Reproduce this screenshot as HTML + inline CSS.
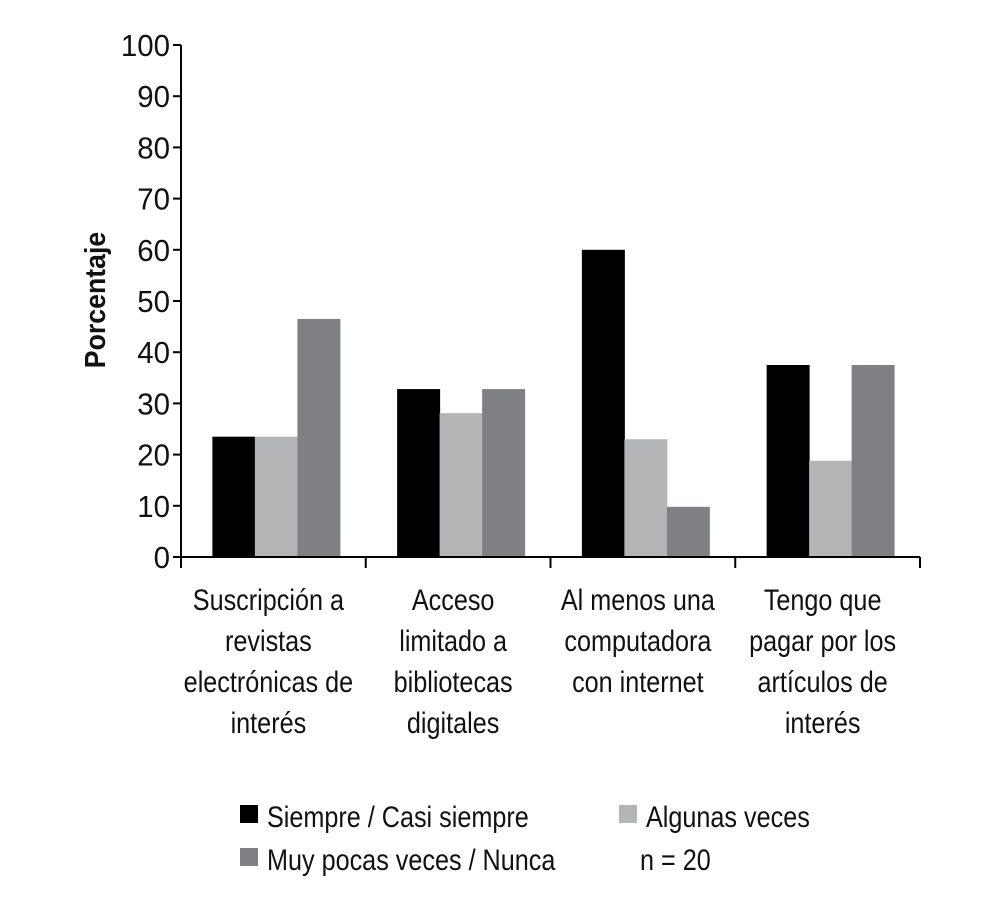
<!DOCTYPE html>
<html><head><meta charset="utf-8"><style>
html,body{margin:0;padding:0;background:#fff;}
svg text{font-family:"Liberation Sans Narrow","Liberation Sans",sans-serif;fill:#111;}
</style></head><body>
<svg id="chart" width="987" height="904" xmlns="http://www.w3.org/2000/svg"></svg>
<script>
const categories=[["Suscripción a","revistas","electrónicas de","interés"],["Acceso","limitado a","bibliotecas","digitales"],["Al menos una","computadora","con internet"],["Tengo que","pagar por los","artículos de","interés"]];
const seriesNames=["Siempre / Casi siempre","Algunas veces","Muy pocas veces / Nunca"];
const siempre=[23.5,32.8,60,37.5];
const algunas=[23.5,28.1,23,18.8];
const nunca=[46.5,32.8,9.8,37.5];
const yTicks=[0,10,20,30,40,50,60,70,80,90,100];
const colors=["#000000","#b4b5b7","#7f8084"];
const series=[siempre,algunas,nunca];
const NS="http://www.w3.org/2000/svg";
const svg=document.getElementById('chart');
const x0=181,x1=920,y0=557,y100=45;
const yS=v=>y0-(y0-y100)*v/100;
const bw=(x1-x0)/categories.length;
function mk(t,a,p){const e=document.createElementNS(NS,t);for(const k in a)e.setAttribute(k,a[k]);(p||svg).appendChild(e);return e;}
function txt(s,x,y,anchor,size,sx,p,bold){
  const g=mk('g',{transform:`translate(${x},${y}) scale(${sx},1)`},p);
  const t=mk('text',{x:0,y:0,'text-anchor':anchor,'font-size':size},g);
  if(bold)t.setAttribute('font-weight','bold');
  t.textContent=s;return t;}
categories.forEach((c,i)=>{
  const start=x0+i*bw+bw/2-61;
  series.forEach((s,j)=>{
    const r=mk('rect',{x:start+j*42.5,y:yS(s[i]),width:43,height:y0-yS(s[i]),fill:colors[j]});
    
    
  });
  c.forEach((line,k)=>{const t=txt(line,x0+i*bw+bw/2-5,610+k*41,'middle',30,0.84);
    });
  const tk=mk('line',{x1:x0+(i+1)*bw,x2:x0+(i+1)*bw,y1:y0,y2:568,stroke:'#000','stroke-width':2});
  
});
const ya=mk('line',{x1:x0,x2:x0,y1:y100,y2:568,stroke:'#000','stroke-width':2});

const xa=mk('line',{x1:x0,x2:x1,y1:y0,y2:y0,stroke:'#000','stroke-width':2});

yTicks.forEach(v=>{
  const l=mk('line',{x1:173,x2:x0,y1:yS(v),y2:yS(v),stroke:'#000','stroke-width':2});
  
  const t=txt(String(v),170,yS(v)+11,'end',31,0.95);
  
});
const yt=mk('g',{transform:'translate(105,300) rotate(-90) scale(0.92,1)'});

const ytt=mk('text',{x:0,y:0,'text-anchor':'middle','font-size':29,'font-weight':'bold'},yt);ytt.textContent='Porcentaje';
const lpos=[[240,805],[619,805],[240,848]];
seriesNames.forEach((n,j)=>{
  const r=mk('rect',{x:lpos[j][0],y:lpos[j][1],width:18,height:18,fill:colors[j]});
  
  const t=txt(n,lpos[j][0]+27,lpos[j][1]+22,'start',30,0.84);
  
});
const nt=txt('n = 20',640,870,'start',30,0.84);

</script>
</body></html>
